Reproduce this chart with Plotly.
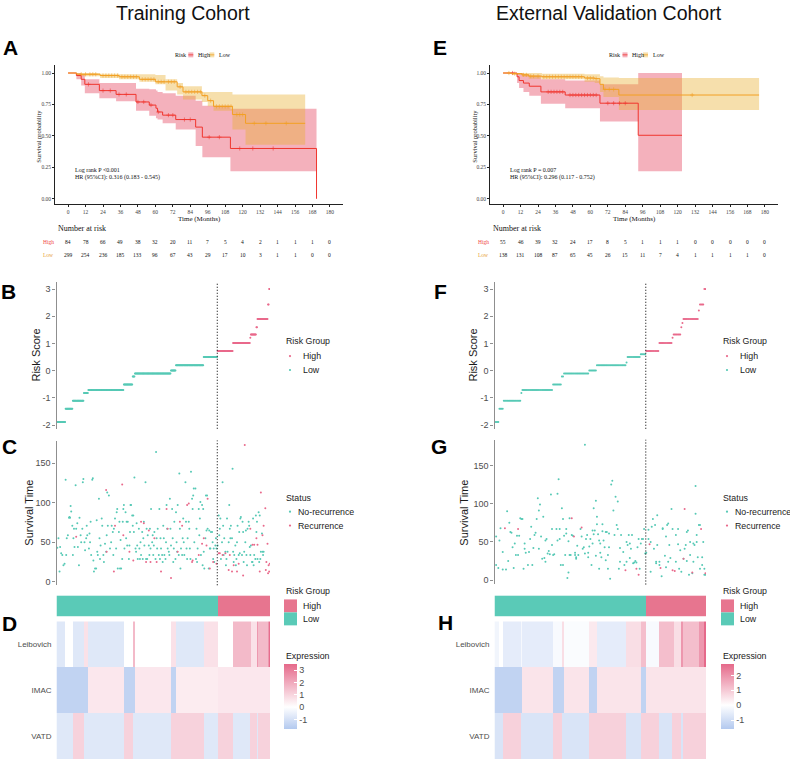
import bisect
import numpy as np
import plotly.graph_objects as go

W, H = 790, 762
SANS = "Liberation Sans, Arial, sans-serif"
SERIF = "Liberation Serif, Times New Roman, serif"

TEAL = "#56C9B5"
PINK = "#E9698B"
BAR_TEAL = "#5ACAB7"
BAR_PINK = "#E7758F"
KM_RED = "#F0352E"
KM_ORANGE = "#F3A024"
FILL_RED = "rgba(229,70,95,0.42)"
FILL_ORANGE = "rgba(232,176,48,0.40)"
AXC = "#8F8F8F"

# ------------------------------------------------------------------ DATA
km_ticks = [0, 12, 24, 36, 48, 60, 72, 84, 96, 108, 120, 132, 144, 156, 168, 180]

# Training cohort Kaplan-Meier (time in months, survival, lower CI, upper CI)
tr_high_t = [0, 5.7, 9, 11.5, 21.5, 33, 46.7, 55.8, 60.4, 61.5, 65, 74, 87.7, 92.3, 111.6, 170.8]
tr_high_s = [1.0, 0.98, 0.95, 0.91, 0.86, 0.83, 0.77, 0.745, 0.72, 0.69, 0.665, 0.63, 0.57, 0.49, 0.40, 0.0]
tr_high_lo = [1.0, 0.95, 0.90, 0.84, 0.80, 0.775, 0.70, 0.66, 0.64, 0.63, 0.60, 0.55, 0.42, 0.33, 0.22, 0.22]
tr_high_up = [1.0, 1.0, 0.99, 0.95, 0.92, 0.92, 0.875, 0.87, 0.86, 0.85, 0.84, 0.82, 0.78, 0.74, 0.715, 0.715]
tr_low_t = [0, 6, 22, 35, 49, 60, 67, 75, 79, 92, 96, 100, 113, 122, 163]
tr_low_s = [1.0, 0.99, 0.98, 0.97, 0.95, 0.93, 0.93, 0.89, 0.85, 0.82, 0.78, 0.735, 0.67, 0.60, 0.60]
tr_low_lo = [1.0, 0.975, 0.96, 0.95, 0.93, 0.91, 0.86, 0.83, 0.79, 0.77, 0.735, 0.70, 0.55, 0.43, 0.43]
tr_low_up = [1.0, 1.0, 0.995, 0.99, 0.99, 0.985, 0.95, 0.92, 0.895, 0.85, 0.85, 0.85, 0.83, 0.83, 0.83]
tr_cens_high = [14, 24, 29, 35, 40, 48, 52, 57, 62, 69, 72, 80, 84, 97, 104, 118, 127, 141]
tr_cens_low = [9, 12, 15, 17, 19, 24, 26, 28, 30, 32, 34, 37, 39, 41, 43, 45, 47, 51, 53, 55, 57,
               59, 62, 64, 66, 69, 71, 73, 77, 81, 83, 85, 87, 89, 91, 94, 98, 102, 104, 106,
               108, 110, 112, 116, 118, 120, 128, 136, 150]

# External validation Kaplan-Meier
va_high_t = [0, 9.6, 11, 14, 18, 26, 42.7, 66.6, 92.9, 123]
va_high_s = [1.0, 0.97, 0.94, 0.92, 0.895, 0.85, 0.825, 0.76, 0.505, 0.505]
va_high_lo = [1.0, 0.92, 0.88, 0.85, 0.82, 0.755, 0.72, 0.615, 0.22, 0.22]
va_high_up = [1.0, 1.0, 1.0, 0.99, 0.98, 0.95, 0.94, 0.91, 1.0, 1.0]
va_low_t = [0, 6, 13, 17.6, 26.7, 56, 63, 66.6, 69, 79.6, 176]
va_low_s = [1.0, 0.995, 0.985, 0.975, 0.97, 0.96, 0.955, 0.91, 0.87, 0.825, 0.825]
va_low_lo = [1.0, 0.985, 0.97, 0.955, 0.95, 0.93, 0.92, 0.85, 0.81, 0.705, 0.705]
va_low_up = [1.0, 1.0, 1.0, 1.0, 0.995, 0.99, 0.99, 0.975, 0.965, 0.96, 0.96]
va_cens_high = [6.5, 31, 33, 35, 37, 39, 41, 46, 48, 50, 52, 54, 56, 58, 60, 62, 64, 72, 76, 80, 84]
va_cens_low = [4, 8, 14, 16, 19, 21, 24, 28, 30, 32, 34, 36, 38, 40, 42, 44, 46, 48, 50, 52, 54,
               58, 60, 62, 64, 70, 73, 76, 130]

# Number at risk
tr_risk_high = [84, 78, 66, 49, 38, 32, 20, 11, 7, 5, 4, 2, 1, 1, 1, 0]
tr_risk_low = [299, 254, 236, 185, 133, 96, 67, 43, 29, 17, 10, 3, 1, 1, 0, 0]
va_risk_high = [55, 46, 39, 32, 24, 17, 8, 5, 1, 1, 1, 0, 0, 0, 0, 0]
va_risk_low = [138, 131, 108, 87, 65, 45, 26, 15, 11, 7, 4, 1, 1, 1, 1, 0]

# Risk-score plateaus (sorted patients): count per plateau, score, scaled Leibovich / IMAC / VATD
tr_seg_count = [16, 13, 20, 8, 64, 16, 4, 65, 9, 50, 25, 28, 31, 1, 10, 2, 19, 2, 2]
tr_seg_score = [-1.89, -1.40, -1.11, -0.82, -0.71, -0.51, -0.21, -0.10, 0.01, 0.20, 0.50,
                0.72, 1.02, 1.21, 1.33, 1.60, 1.90, 2.43, 3.00]
tr_seg_leib = [-0.75, 0.0, -0.75, 0.7, -0.75, 0.0, 1.6, 0.0, 0.7, -0.75, 0.7,
               0.0, 1.6, 1.6, 0.7, 2.4, 1.6, 2.4, 3.4]
tr_seg_imac = [-1.45, -1.45, -1.45, -1.45, 0.55, -1.45, -1.45, 0.55, -1.45, 0.45, 0.45,
               0.55, 0.55, 0.55, 0.55, 0.55, 0.55, 0.55, 0.55]
tr_seg_vatd = [-0.75, -0.75, 1.05, -0.75, -0.75, 1.05, -0.75, -0.75, 1.05, 1.05, -0.75,
               1.05, -0.75, 1.05, 1.05, -0.75, 1.05, 1.05, 1.05]
tr_n_low = 290

va_seg_count = [4, 4, 16, 1, 28, 8, 2, 23, 7, 27, 1, 12, 5, 12, 12, 1, 7, 1, 1, 14, 1, 4, 2]
va_seg_score = [-1.89, -1.40, -1.11, -0.82, -0.71, -0.51, -0.21, -0.10, 0.01, 0.20, 0.30, 0.50, 0.60,
                0.72, 1.02, 1.21, 1.33, 1.60, 1.75, 1.90, 2.21, 2.43, 3.00]
va_seg_leib = [-0.3, 0.0, -0.55, -0.2, -0.55, -0.15, 0.6, -0.1, 0.4, -0.55, 0.6, 0.6, 1.2,
               -0.15, 1.2, 1.2, 0.6, 1.9, 1.9, 1.2, 1.9, 1.9, 2.75]
va_seg_imac = [-1.3, -1.3, -1.3, -1.3, 0.5, -1.3, -1.3, 0.5, -1.3, 0.5, 0.5, 0.5, -1.3,
               0.5, 0.5, 0.5, 0.5, 0.5, 0.5, 0.5, 0.5, 0.5, 0.5]
va_seg_vatd = [-0.8, -0.8, 0.85, -0.8, -0.8, 0.85, -0.8, -0.8, 0.85, 0.85, -0.8, -0.8, 0.85,
               0.85, -0.8, 0.85, 0.85, -0.8, -0.8, 0.85, 0.85, 0.85, 0.85]
va_n_low = 138

genes = ["Leibovich", "IMAC", "VATD"]

# Survival time per patient (patient rank, months)
tr_norec = [(2,43),(4,55),(6,13),(7,44),(9,36),(11,34),(13,21),(15,23),(17,129),(18,34),(19,55),(21,59),(23,81),(24,82),(25,81),(26,96),(27,89),(29,71),(30,34),(31,55),(32,67),(33,44),(35,122),(36,67),(38,74),(39,44),(41,21),(42,81),(44,59),(45,50),(47,67),(48,126),(49,130),(51,50),(52,40),(54,55),(55,71),(56,59),(59,42),(60,61),(61,50),(62,76),(63,34),(65,129),(66,131),(67,27),(68,13),(70,17),(72,17),(73,78),(74,38),(75,34),(77,105),(78,55),(79,29),(80,46),(82,80),(83,71),(85,34),(86,25),(88,48),(90,38),(91,59),(92,113),(93,71),(95,109),(97,42),(99,50),(100,71),(102,63),(103,34),(104,67),(106,80),(108,42),(109,88),(110,92),(111,17),(113,63),(114,76),(115,17),(116,53),(117,17),(119,29),(120,76),(121,92),(122,97),(123,42),(125,88),(126,55),(127,76),(128,46),(129,76),(131,29),(132,46),(133,63),(134,97),(135,97),(137,84),(138,71),(139,84),(140,63),(141,132),(143,42),(144,38),(145,74),(146,46),(147,29),(149,67),(150,42),(151,29),(152,50),(153,34),(155,63),(156,29),(157,55),(158,76),(159,46),(161,126),(162,29),(163,67),(164,29),(165,59),(167,46),(168,34),(169,67),(170,42),(171,92),(173,50),(174,59),(175,34),(176,46),(177,63),(179,29),(180,164),(181,55),(182,42),(183,67),(185,34),(186,92),(187,29),(188,55),(189,42),(191,34),(192,25),(193,71),(194,55),(195,34),(197,29),(198,50),(199,97),(200,67),(201,42),(203,38),(204,34),(205,105),(206,67),(207,46),(209,92),(210,55),(211,25),(212,42),(213,76),(215,29),(216,88),(217,50),(218,38),(219,97),(221,34),(222,137),(223,67),(224,17),(225,42),(227,34),(228,55),(229,80),(230,50),(231,34),(233,126),(234,76),(235,42),(236,29),(237,55),(239,76),(240,67),(241,42),(242,29),(243,139),(245,105),(246,92),(247,109),(248,118),(249,50),(251,118),(252,29),(253,67),(254,25),(255,42),(257,92),(258,59),(259,80),(260,101),(261,34),(263,97),(264,21),(265,92),(266,38),(267,17),(269,55),(270,109),(271,65),(272,109),(273,67),(275,17),(276,65),(277,42),(278,42),(279,63),(281,63),(282,50),(283,29),(284,42),(285,25),(287,46),(288,55),(289,42),
            (291,46),(293,84),(294,59),(295,67),(296,80),(297,29),(299,50),(300,126),(301,71),(302,34),(303,55),(305,38),(306,21),(307,29),(308,80),(309,38),(311,50),(312,97),(313,67),(314,55),(315,71),(317,55),(318,143),(319,38),(320,25),(321,34),(323,46),(324,21),(325,29),(326,50),(327,71),(329,34),(330,63),(331,36),(332,80),(333,82),(335,34),(336,76),(337,63),(338,25),(339,38),(341,50),(342,65),(343,34),(344,21),(345,67),(347,76),(348,71),(349,44),(350,34),(351,46),(353,25),(354,25),(355,80),(356,21),(357,34),(359,29),(360,84),(361,63),(362,76),(363,29),(365,88),(366,25),(367,84),(368,29),(369,38),(371,61),(372,38),(373,34),(374,38)]
tr_rec = [(36,57),(90,116),(91,38),(104,13),(106,71),(119,123),(121,59),(132,38),(139,27),(153,76),(158,74),(162,25),(167,65),(170,25),(177,55),(181,25),(189,13),(199,92),(201,67),(207,5),(219,38),(223,76),(227,71),(236,97),(239,99),(245,25),(246,27),(257,34),(263,48),(266,55),(271,46),(273,105),(277,17),(283,25),(289,23),(293,36),(295,36),(300,34),(305,36),(311,15),(313,34),(317,13),(320,21),(326,13),(329,23),(337,8),(340,173),(350,67),(354,47),(357,47),(361,55),(363,47),(367,13),(369,113),(372,59),(374,71),(377,93),(378,15),(379,25),(381,48),(382,11),(383,21),(384,13),(385,23)]

va_norec = [(2,57),(2,20),(4,16),(5,52),(6,68),(8,14),(8,37),(11,14),(12,90),(13,25),(14,75),(15,63),(16,62),(17,43),(18,16),(19,48),(20,33),(21,58),(22,33),(23,58),(24,81),(25,80),(26,80),(27,15),(28,41),(28,48),(29,36),(31,20),(32,37),(33,54),(34,70),(35,20),(36,42),(37,59),(38,62),(39,80),(40,107),(41,91),(41,41),(42,99),(43,57),(44,28),(45,83),(46,29),(47,52),(47,24),(48,54),(49,35),(50,38),(51,34),(52,112),(53,46),(53,67),(54,33),(55,34),(57,67),(58,52),(58,113),(59,132),(60,54),(60,67),(61,20),(62,94),(63,80),(63,20),(64,58),(65,33),(66,67),(66,61),(67,3),(68,10),(68,51),(69,81),(69,33),(70,33),(71,59),(72,58),(74,36),(74,33),(75,30),(75,28),(76,45),(77,33),(79,67),(80,57),(81,41),(82,43),(83,35),(83,177),(84,54),(85,59),(86,36),(86,30),(87,44),(88,54),(89,20),(90,48),(90,65),(91,60),(91,94),(92,65),(93,32),(93,104),(94,83),(94,73),(95,60),(96,52),(96,15),(97,36),(97,48),(98,30),(99,64),(99,73),(100,52),(101,43),(102,26),(102,63),(103,63),(104,15),(104,33),(105,43),(105,61),(106,2),(107,125),(108,130),(109,91),(110,59),(111,109),(112,72),(113,103),(113,67),(114,15),(115,42),(115,24),(116,59),(118,37),(119,20),(121,50),(121,24),(122,46),(123,59),(124,29),(124,48),(125,41),(126,59),(127,22),(128,23),(129,25),(130,23),(131,43),(132,54),(133,15),(134,48),(135,54),(136,54),(137,67),(138,35),(139,36),
            (141,54),(141,66),(143,50),(143,11),(144,70),(145,80),(146,41),(147,72),(148,22),(148,24),(149,85),(149,46),(151,20),(151,24),(153,5),(154,67),(154,68),(156,32),(157,17),(157,57),(158,72),(159,74),(159,24),(160,46),(161,29),(162,93),(163,67),(166,59),(166,24),(168,47),(168,67),(169,15),(170,39),(171,11),(173,28),(174,41),(175,46),(176,25),(176,63),(177,65),(178,7),(179,50),(179,33),(181,9),(182,48),(182,24),(183,46),(184,87),(184,123),(185,59),(185,50),(186,30),(187,72),(188,15),(188,72),(190,30),(190,20),(191,50),(192,15),(192,7),(193,7)]
va_rec = [(10,68),(22,67),(71,81),(73,57),(80,69),(120,13),(130,15),(132,7),(142,47),(152,16),(163,13),(165,12),(173,28),(174,93),(181,10),(189,67),(193,9)]

# ------------------------------------------------------------------ HELPERS
def px(x):
    return x / W


def py(y):
    return 1 - y / H


def xdom(a, b):
    return [a / W, b / W]


def ydom(top, bottom):
    return [1 - bottom / H, 1 - top / H]


def axn(i):
    return ("x", "y") if i == 1 else ("x%d" % i, "y%d" % i)


def step_at(ts, ss, t):
    k = bisect.bisect_right(ts, t) - 1
    return ss[max(k, 0)]


fig = go.Figure()
annotations = []
shapes = []


def txt(text, x, y, size, color="#1A1A1A", family=SANS, xanchor="left", yanchor="middle", angle=0):
    annotations.append(dict(text=text, x=px(x), y=py(y), xref="paper", yref="paper", showarrow=False,
                            font=dict(size=size, color=color, family=family), xanchor=xanchor,
                            yanchor=yanchor, textangle=angle))


def dot(x, y, r, color):
    shapes.append(dict(type="circle", xref="paper", yref="paper", x0=px(x - r), x1=px(x + r),
                       y0=py(y + r), y1=py(y - r), fillcolor=color, line=dict(width=0)))


def rect(x0, y0, x1, y1, color):
    shapes.append(dict(type="rect", xref="paper", yref="paper", x0=px(x0), x1=px(x1), y0=py(y1), y1=py(y0),
                       fillcolor=color, line=dict(width=0)))


def hline(x0, x1, y, color, width=1):
    shapes.append(dict(type="line", xref="paper", yref="paper", x0=px(x0), x1=px(x1), y0=py(y), y1=py(y),
                       line=dict(color=color, width=width)))


# ------------------------------------------------------------------ KM PANELS
def km_panel(i, high, low, cens_h, cens_l, risk_h, risk_l, logp, hr):
    xa, ya = axn(i)
    for (t, s, lo, up), fc in [(high, FILL_RED), (low, FILL_ORANGE)]:
        fig.add_trace(go.Scatter(x=t, y=lo, mode="lines", line=dict(width=0, shape="hv"), xaxis=xa, yaxis=ya,
                                 showlegend=False, hoverinfo="skip"))
        fig.add_trace(go.Scatter(x=t, y=up, mode="lines", line=dict(width=0, shape="hv"), fill="tonexty",
                                 fillcolor=fc, xaxis=xa, yaxis=ya, showlegend=False, hoverinfo="skip"))
    for (t, s, lo, up), col, cens in [(high, KM_RED, cens_h), (low, KM_ORANGE, cens_l)]:
        fig.add_trace(go.Scatter(x=t, y=s, mode="lines", line=dict(color=col, width=1, shape="hv"),
                                 xaxis=xa, yaxis=ya, showlegend=False, hoverinfo="skip"))
        fig.add_trace(go.Scatter(x=cens, y=[step_at(t, s, c) for c in cens], mode="markers",
                                 marker=dict(symbol="cross-thin", size=3, line=dict(width=0.55, color=col)),
                                 xaxis=xa, yaxis=ya, showlegend=False, hoverinfo="skip"))
    for lab, yy in [(logp, 0.232), (hr, 0.169)]:
        annotations.append(dict(text=lab, x=3.4, y=yy, xref=xa, yref=ya, showarrow=False, xanchor="left",
                                yanchor="middle", font=dict(size=6, family=SERIF, color="#111")))
    # number at risk table
    for row, yy in [(risk_h, 243), (risk_l, 256)]:
        for tk, v in zip(km_ticks, row):
            annotations.append(dict(text=str(v), x=tk, y=py(yy), xref=xa, yref="paper", showarrow=False,
                                    xanchor="center", yanchor="middle",
                                    font=dict(size=5.5, family=SERIF, color="#111")))


km_panel(1, (tr_high_t, tr_high_s, tr_high_lo, tr_high_up), (tr_low_t, tr_low_s, tr_low_lo, tr_low_up),
         tr_cens_high, tr_cens_low, tr_risk_high, tr_risk_low,
         "Log rank P &lt;0.001", "HR (95%CI): 0.316 (0.183 - 0.545)")
km_panel(2, (va_high_t, va_high_s, va_high_lo, va_high_up), (va_low_t, va_low_s, va_low_lo, va_low_up),
         va_cens_high, va_cens_low, va_risk_high, va_risk_low,
         "Log rank P = 0.007", "HR (95%CI): 0.296 (0.117 - 0.752)")

# KM text decorations
for ylab_x, xt_c in [(39, 199), (475, 634)]:
    txt("Survival probability", ylab_x, 137, 6.5, color="#111", family=SERIF, xanchor="center", angle=-90)
    txt("Time (Months)", xt_c, 219.5, 7, color="#111", family=SERIF, xanchor="center")
txt("Number at risk", 56, 229.5, 8, color="#111", family=SERIF)
txt("Number at risk", 491, 229.5, 8, color="#111", family=SERIF)
for xc in (48, 483):
    txt("High", xc, 243, 5.5, color="#F04848", family=SERIF, xanchor="center")
    txt("Low", xc, 256, 5.5, color="#E8A33A", family=SERIF, xanchor="center")

# KM legends
for rx, gr, hx, go_, lx in [(173, 188.3, 195.5, 209.3, 217.3), (607, 622.5, 629.5, 643, 651)]:
    txt("Risk", rx, 55, 6, color="#111", family=SERIF)
    rect(gr, 52.5, gr + 5, 57.5, FILL_RED)
    hline(gr, gr + 5, 55, KM_RED, 0.8)
    txt("High", hx, 55, 6, color="#111", family=SERIF)
    rect(go_, 52.5, go_ + 5, 57.5, FILL_ORANGE)
    hline(go_, go_ + 5, 55, KM_ORANGE, 0.8)
    txt("Low", lx, 55, 6, color="#111", family=SERIF)

# ------------------------------------------------------------------ RISK / SURVIVAL / HEATMAP PANELS
def risk_panels(ib, ic, ibar, iheat, counts, scores, leib, imac, vatd, n_low, norec, rec, zmin, zmax,
                cb_x, cb_ticks):
    n = int(np.sum(counts))
    idx = np.arange(1, n + 1)
    score = np.repeat(scores, counts)
    xb, yb = axn(ib)
    fig.add_trace(go.Scatter(x=idx[n_low:], y=score[n_low:], mode="markers", name="High",
                             marker=dict(size=2.0, color=PINK), xaxis=xb, yaxis=yb, showlegend=False))
    fig.add_trace(go.Scatter(x=idx[:n_low], y=score[:n_low], mode="markers", name="Low",
                             marker=dict(size=2.0, color=TEAL), xaxis=xb, yaxis=yb, showlegend=False))
    xc, yc = axn(ic)
    for pts, col, nm in [(norec, TEAL, "No-recurrence"), (rec, PINK, "Recurrence")]:
        fig.add_trace(go.Scatter(x=[p[0] for p in pts], y=[p[1] for p in pts], mode="markers", name=nm,
                                 marker=dict(size=2.0, color=col), xaxis=xc, yaxis=yc, showlegend=False))
    split = n_low + 0.5
    for xa, ya in [(xb, yb), (xc, yc)]:
        shapes.append(dict(type="line", xref=xa, yref=ya + " domain", x0=split, x1=split, y0=0, y1=1,
                           line=dict(color="#222", width=1.2, dash="1px,2px")))
    xr, yr = axn(ibar)
    grp = np.where(idx <= n_low, 0, 1)
    fig.add_trace(go.Heatmap(z=[grp], x=idx, y=["Risk"], zmin=0, zmax=1, showscale=False,
                             colorscale=[[0, BAR_TEAL], [0.5, BAR_TEAL], [0.5, BAR_PINK], [1, BAR_PINK]],
                             xaxis=xr, yaxis=yr, hoverinfo="skip"))
    xh, yh = axn(iheat)
    z = [np.repeat(leib, counts), np.repeat(imac, counts), np.repeat(vatd, counts)]
    mid = -zmin / (zmax - zmin)
    fig.add_trace(go.Heatmap(z=z, x=idx, y=genes, zmin=zmin, zmax=zmax,
                             colorscale=[[0, "#B3C9EF"], [mid, "#FFFFFF"], [1, "#E5698A"]],
                             xaxis=xh, yaxis=yh, hoverinfo="skip",
                             colorbar=dict(x=px(cb_x), xanchor="left", y=py(698.5), yanchor="middle",
                                           len=65, lenmode="pixels", thickness=13, thicknessmode="pixels",
                                           xpad=0, ypad=0, outlinewidth=0, tickvals=cb_ticks,
                                           ticktext=[str(v) for v in cb_ticks],
                                           ticks="inside", tickcolor="white", ticklen=3,
                                           tickfont=dict(size=9, color="#4D4D4D", family=SANS))))
    return n


n_tr = risk_panels(3, 4, 5, 6, tr_seg_count, tr_seg_score, tr_seg_leib, tr_seg_imac, tr_seg_vatd, tr_n_low,
                   tr_norec, tr_rec, -1.78, 3.49, 284, [-1, 0, 1, 2, 3])
n_va = risk_panels(7, 8, 9, 10, va_seg_count, va_seg_score, va_seg_leib, va_seg_imac, va_seg_vatd, va_n_low,
                   va_norec, va_rec, -1.6, 2.75, 721, [-1, 0, 1, 2])

# legends for lower panels
LF = 8.8
for xo in (0, 437):
    txt("Risk Group", 283.5 + xo, 342, LF)
    dot(290 + xo, 357, 1.1, PINK)
    dot(290 + xo, 371, 1.1, TEAL)
    txt("High", 301 + xo, 357, LF)
    txt("Low", 301 + xo, 371, LF)
    txt("Status", 284 + xo, 499, LF)
    dot(290 + xo, 513, 1.1, TEAL)
    dot(290 + xo, 527, 1.1, PINK)
    txt("No-recurrence", 295.5 + xo, 513, LF)
    txt("Recurrence", 295.5 + xo, 527, LF)
    txt("Risk Group", 284 + xo, 593, LF)
    rect(284 + xo, 601, 297 + xo, 614, BAR_PINK)
    rect(284 + xo, 614, 297 + xo, 627, BAR_TEAL)
    txt("High", 301 + xo, 608, LF)
    txt("Low", 301 + xo, 621, LF)
    txt("Expression", 284 + xo, 658, LF)

# axis titles
txt("Risk Score", 36, 356.5, 11, xanchor="center", angle=-90)
txt("Survival Time", 29, 514, 11, xanchor="center", angle=-90)
txt("Risk Score", 473, 356.5, 11, xanchor="center", angle=-90)
txt("Survival Time", 464, 514, 11, xanchor="center", angle=-90)

# panel letters and titles
for L, x, y in [("A", 10, 48), ("B", 8, 292), ("C", 9, 448), ("D", 9, 625),
                ("E", 440, 48), ("F", 440, 292), ("G", 439, 448), ("H", 445, 624)]:
    txt("<b>%s</b>" % L, x, y, 21, color="#000", xanchor="center")
txt("Training Cohort", 183, 13, 19.5, color="#111", xanchor="center")
txt("External Validation Cohort", 609, 13, 19.5, color="#111", xanchor="center")

# ------------------------------------------------------------------ LAYOUT
km_font = dict(size=5.5, family=SERIF, color="#444")
km_x = dict(range=[-9, 189], tickvals=km_ticks, tickangle=0, showline=True, linecolor="#222", linewidth=0.8,
            ticks="outside", ticklen=2, tickwidth=0.6, tickcolor="#222", tickfont=km_font,
            showgrid=False, zeroline=False)
km_y = dict(range=[-0.045, 1.065], tickvals=[0, 0.25, 0.5, 0.75, 1],
            ticktext=["0.00", "0.25", "0.50", "0.75", "1.00"], showline=True, linecolor="#222",
            linewidth=0.8, ticks="outside", ticklen=2, tickwidth=0.6, tickcolor="#222", tickfont=km_font,
            showgrid=False, zeroline=False)

gg_y = dict(showline=True, linecolor=AXC, linewidth=1.3, ticks="outside", ticklen=3, tickcolor=AXC,
            tickfont=dict(size=9, family=SANS, color="#4D4D4D"), showgrid=False, zeroline=False)

TR_X = xdom(56.5, 270)
VA_X = xdom(494.5, 706)

layout = dict(width=W, height=H, margin=dict(l=0, r=0, t=0, b=0), paper_bgcolor="white",
              plot_bgcolor="white", showlegend=False, annotations=annotations, shapes=shapes)
layout["xaxis"] = dict(km_x, domain=xdom(55, 343), anchor="y")
layout["yaxis"] = dict(km_y, domain=ydom(65, 205), anchor="x")
layout["xaxis2"] = dict(km_x, domain=xdom(490, 778), anchor="y2")
layout["yaxis2"] = dict(km_y, domain=ydom(65, 205), anchor="x2")

for base, xd, n in [(3, TR_X, n_tr), (7, VA_X, n_va)]:
    ib, ic, ibar, ih = base, base + 1, base + 2, base + 3
    for i in (ib, ic, ibar, ih):
        layout["xaxis%d" % i] = dict(domain=xd, range=[0.5, n + 0.5], visible=False, anchor="y%d" % i)
    layout["yaxis%d" % ib] = dict(gg_y, domain=ydom(283, 430), range=[-2.14, 3.25],
                                  tickvals=[-2, -1, 0, 1, 2, 3], ticktext=["-2", "-1", "0", "1", "2", "3"],
                                  anchor="x%d" % ib)
    yc_range = [-4.2, 178.6] if base == 3 else [-5.6, 183.5]
    yc_dom = ydom(441.7, 586.7) if base == 3 else ydom(441, 586)
    layout["yaxis%d" % ic] = dict(gg_y, domain=yc_dom, range=yc_range, tickvals=[0, 50, 100, 150],
                                  anchor="x%d" % ic)
    layout["yaxis%d" % ibar] = dict(domain=ydom(597, 618), visible=False, anchor="x%d" % ibar)
    layout["yaxis%d" % ih] = dict(domain=ydom(623, 761), autorange="reversed", showline=False, ticks="",
                                  showgrid=False, zeroline=False, ticklabelstandoff=4,
                                  tickfont=dict(size=8, family=SANS, color="#4D4D4D"), anchor="x%d" % ih)

fig.update_layout(**layout)
fig.write_html("out.html")
